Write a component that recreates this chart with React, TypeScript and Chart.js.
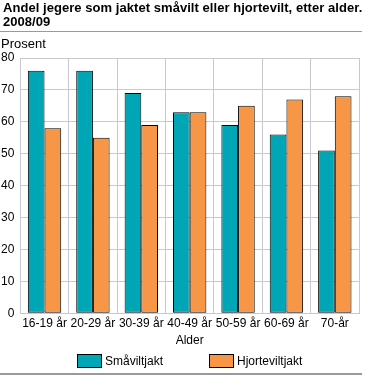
import React, { useEffect, useRef } from "react";
import { Chart, registerables } from "chart.js";

Chart.register(...registerables);

const categories = ["16-19 år", "20-29 år", "30-39 år", "40-49 år", "50-59 år", "60-69 år", "70-år"];
const smavilt = [76, 76, 69, 63, 59, 56, 51];
const hjortevilt = [58, 55, 59, 63, 65, 67, 68];
const yTicks = [0, 10, 20, 30, 40, 50, 60, 70, 80];

const titleText = "Andel jegere som jaktet småvilt eller hjortevilt, etter alder.";
const titleYear = "2008/09";
const FONT = "'Liberation Sans', Arial, sans-serif";

const legendPlugin = {
  id: "customLegend",
  afterDraw(chart: any) {
    const ctx = chart.ctx;
    const boxW = 25;
    const boxH = 14;
    const gap = 3;
    const spacing = 46;
    const y = 354;
    ctx.save();
    ctx.font = `12px ${FONT}`;
    const items = chart.data.datasets.map((ds: any) => ({
      text: ds.label,
      color: ds.backgroundColor,
      w: boxW + gap + ctx.measureText(ds.label).width,
    }));
    const total = items.reduce((s: number, it: any) => s + it.w, 0) + spacing * (items.length - 1);
    const area = chart.chartArea;
    let x = Math.round((area.left + area.right) / 2 - total / 2);
    items.forEach((it: any) => {
      ctx.fillStyle = it.color;
      ctx.fillRect(x, y, boxW, boxH);
      ctx.strokeStyle = "#000";
      ctx.lineWidth = 1;
      ctx.strokeRect(x + 0.5, y + 0.5, boxW - 1, boxH - 1);
      ctx.fillStyle = "#000";
      ctx.textBaseline = "middle";
      ctx.textAlign = "left";
      ctx.fillText(it.text, x + boxW + gap, y + boxH / 2 + 0.5);
      x += it.w + spacing;
    });
    ctx.restore();
  },
};

export default function App() {
  const ref = useRef<HTMLCanvasElement | null>(null);

  useEffect(() => {
    document.body.style.margin = "0";
    const ctx = ref.current;
    if (!ctx) return;
    const chart = new Chart(ctx, {
      type: "bar",
      data: {
        labels: categories,
        datasets: [
          {
            label: "Småviltjakt",
            data: smavilt,
            backgroundColor: "#00a6b6",
            borderColor: "#000000",
            borderWidth: 1,
            borderSkipped: false,
          },
          {
            label: "Hjorteviltjakt",
            data: hjortevilt,
            backgroundColor: "#f79646",
            borderColor: "#000000",
            borderWidth: 1,
            borderSkipped: false,
          },
        ],
      },
      options: {
        animation: false,
        responsive: false,
        maintainAspectRatio: false,
        layout: { padding: { top: 58, left: -5, right: 7, bottom: 27 } },
        datasets: { bar: { categoryPercentage: 0.69, barPercentage: 1 } },
        scales: {
          x: {
            grid: { color: "#c8c8d0", drawTicks: false, offset: true },
            border: { color: "#c8c8d0" },
            ticks: { color: "#000", font: { family: FONT, size: 12 }, padding: 3, maxRotation: 0, autoSkip: false },
            title: { display: true, text: "Alder", color: "#000", font: { family: FONT, size: 12 }, padding: { top: 0, bottom: 0 } },
          },
          y: {
            min: 0,
            max: 80,
            afterBuildTicks: (axis: any) => {
              axis.ticks = yTicks.map((v) => ({ value: v }));
            },
            grid: { color: "#c8c8d0", drawTicks: false },
            border: { color: "#c8c8d0" },
            ticks: { color: "#000", font: { family: FONT, size: 12 }, padding: 6 },
          },
        },
        plugins: {
          legend: { display: false },
          tooltip: { enabled: false },
        },
      },
      plugins: [legendPlugin],
    });
    return () => chart.destroy();
  }, []);

  return (
    <div style={{ position: "absolute", left: 0, top: 0, width: 366, height: 375, background: "#fff", overflow: "hidden" }}>
      <canvas ref={ref} width={366} height={375} style={{ position: "absolute", left: 0, top: 0 }} />
      <div
        style={{
          position: "absolute",
          left: 3,
          top: 1,
          fontFamily: FONT,
          fontWeight: "bold",
          fontSize: 13,
          lineHeight: "14px",
          color: "#000",
          whiteSpace: "nowrap",
          letterSpacing: "0.05px",
        }}
      >
        <div>{titleText}</div>
        <div>{titleYear}</div>
      </div>
      <div style={{ position: "absolute", left: 0, top: 31, width: 362, height: 1, background: "#9a9a9a" }} />
      <div style={{ position: "absolute", left: 1, top: 36, fontFamily: FONT, fontSize: 13, color: "#000" }}>Prosent</div>
      <div style={{ position: "absolute", left: 0, top: 373, width: 362, height: 2, background: "#9a9a9a" }} />
    </div>
  );
}
